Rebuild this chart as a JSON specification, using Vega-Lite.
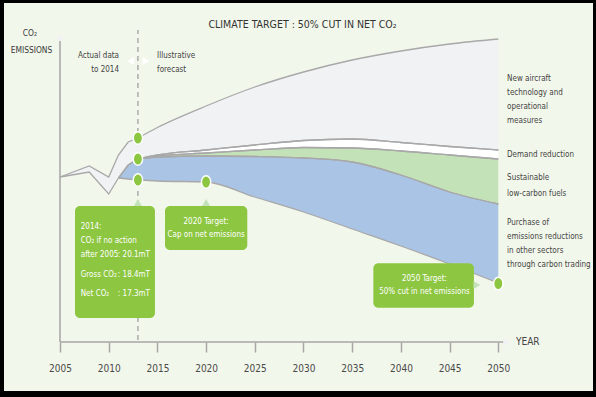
{
  "$schema": "https://vega.github.io/schema/vega-lite/v6.json",
  "width": 589,
  "height": 388,
  "autosize": {"type": "none"},
  "padding": {"left": 4, "top": 3, "right": 3, "bottom": 6},
  "background": "#000000",
  "config": {
    "view": {"fill": "#f2f7eb", "stroke": null},
    "font": "DejaVu Sans Condensed, sans-serif"
  },
  "datasets": {
    "bands": [
      {"phase": "a", "band": "tech", "year": 2005, "v": 16.5, "v2": 16.5},
      {"phase": "a", "band": "tech", "year": 2008, "v": 17.6, "v2": 17.0},
      {"phase": "a", "band": "tech", "year": 2010, "v": 16.5, "v2": 14.8},
      {"phase": "a", "band": "tech", "year": 2011, "v": 18.7, "v2": 16.4},
      {"phase": "a", "band": "tech", "year": 2012, "v": 20.0, "v2": 17.7},
      {"phase": "a", "band": "tech", "year": 2013, "v": 20.4, "v2": 18.3},
      {"phase": "a", "band": "trading", "year": 2011, "v": 16.4, "v2": 16.4},
      {"phase": "a", "band": "trading", "year": 2012, "v": 17.7, "v2": 16.3},
      {"phase": "a", "band": "trading", "year": 2013, "v": 18.3, "v2": 16.2},

      {"phase": "f", "band": "tech", "year": 2013, "v": 20.4, "v2": 18.3},
      {"phase": "f", "band": "tech", "year": 2015, "v": 21.45, "v2": 18.7},
      {"phase": "f", "band": "tech", "year": 2020, "v": 23.6, "v2": 19.2},
      {"phase": "f", "band": "tech", "year": 2025, "v": 25.5, "v2": 19.7},
      {"phase": "f", "band": "tech", "year": 2030, "v": 27.0, "v2": 20.15},
      {"phase": "f", "band": "tech", "year": 2035, "v": 28.2, "v2": 20.3},
      {"phase": "f", "band": "tech", "year": 2040, "v": 29.1, "v2": 19.95},
      {"phase": "f", "band": "tech", "year": 2045, "v": 29.8, "v2": 19.55},
      {"phase": "f", "band": "tech", "year": 2050, "v": 30.3, "v2": 19.2},

      {"phase": "f", "band": "demand", "year": 2013, "v": 18.3, "v2": 18.3},
      {"phase": "f", "band": "demand", "year": 2015, "v": 18.7, "v2": 18.6},
      {"phase": "f", "band": "demand", "year": 2020, "v": 19.2, "v2": 18.9},
      {"phase": "f", "band": "demand", "year": 2025, "v": 19.7, "v2": 19.2},
      {"phase": "f", "band": "demand", "year": 2030, "v": 20.15, "v2": 19.45},
      {"phase": "f", "band": "demand", "year": 2035, "v": 20.3, "v2": 19.4},
      {"phase": "f", "band": "demand", "year": 2040, "v": 19.95, "v2": 19.1},
      {"phase": "f", "band": "demand", "year": 2045, "v": 19.55, "v2": 18.7},
      {"phase": "f", "band": "demand", "year": 2050, "v": 19.2, "v2": 18.3},

      {"phase": "f", "band": "fuels", "year": 2013, "v": 18.3, "v2": 18.3},
      {"phase": "f", "band": "fuels", "year": 2015, "v": 18.6, "v2": 18.5},
      {"phase": "f", "band": "fuels", "year": 2020, "v": 18.9, "v2": 18.6},
      {"phase": "f", "band": "fuels", "year": 2025, "v": 19.2, "v2": 18.55},
      {"phase": "f", "band": "fuels", "year": 2030, "v": 19.45, "v2": 18.4},
      {"phase": "f", "band": "fuels", "year": 2035, "v": 19.4, "v2": 18.0},
      {"phase": "f", "band": "fuels", "year": 2040, "v": 19.1, "v2": 16.7},
      {"phase": "f", "band": "fuels", "year": 2045, "v": 18.7, "v2": 15.0},
      {"phase": "f", "band": "fuels", "year": 2050, "v": 18.3, "v2": 13.8},

      {"phase": "f", "band": "trading", "year": 2013, "v": 18.3, "v2": 16.2},
      {"phase": "f", "band": "trading", "year": 2015, "v": 18.5, "v2": 16.1},
      {"phase": "f", "band": "trading", "year": 2020, "v": 18.6, "v2": 16.0},
      {"phase": "f", "band": "trading", "year": 2025, "v": 18.55, "v2": 14.5},
      {"phase": "f", "band": "trading", "year": 2030, "v": 18.4, "v2": 13.0},
      {"phase": "f", "band": "trading", "year": 2035, "v": 18.0, "v2": 11.3},
      {"phase": "f", "band": "trading", "year": 2040, "v": 16.7, "v2": 9.6},
      {"phase": "f", "band": "trading", "year": 2045, "v": 15.0, "v2": 7.8},
      {"phase": "f", "band": "trading", "year": 2050, "v": 13.8, "v2": 5.9}
    ],
    "dots": [
      {"year": 2013, "v": 20.4},
      {"year": 2013, "v": 18.3},
      {"year": 2013, "v": 16.2},
      {"year": 2020, "v": 16.0},
      {"year": 2050, "v": 5.85}
    ],
    "axes": [
      {"year": 2005, "year2": 2050.6, "v": 0, "v2": 0},
      {"year": 2005, "year2": 2005, "v": 0, "v2": 30.1}
    ],
    "arrows": [
      {"kind": "axis", "dir": "right", "year": 2050.86, "v": 0},
      {"kind": "axis", "dir": "up", "year": 2005, "v": 30.5},
      {"kind": "note", "dir": "left", "year": 2012.26, "v": 28.1},
      {"kind": "note", "dir": "right", "year": 2013.83, "v": 28.1},
      {"kind": "callout", "dir": "up", "year": 2013, "v": 13.95},
      {"kind": "callout", "dir": "up", "year": 2020, "v": 13.95},
      {"kind": "callout", "dir": "right", "year": 2047.81, "v": 5.7}
    ],
    "boxes": [
      {"year": 2006.54, "year2": 2014.75, "v": 13.6, "v2": 2.4},
      {"year": 2015.78, "year2": 2024.23, "v": 13.6, "v2": 9.2},
      {"year": 2037.17, "year2": 2047.5, "v": 7.87, "v2": 3.43}
    ],
    "labels": [
      {"role": "title", "year": 2029.9, "v": 31.7, "text": "CLIMATE TARGET : 50% CUT IN NET CO₂"},
      {"role": "ylab", "year": 2001.9, "v": 30.9, "text": "CO₂"},
      {"role": "ylab", "year": 2002.07, "v": 29.2, "text": "EMISSIONS"},
      {"role": "noteL", "year": 2011.06, "v": 28.6, "text": "Actual data"},
      {"role": "noteL", "year": 2011.06, "v": 27.2, "text": "to 2014"},
      {"role": "noteR", "year": 2014.97, "v": 28.6, "text": "Illustrative"},
      {"role": "noteR", "year": 2014.97, "v": 27.2, "text": "forecast"},
      {"role": "series", "year": 2050.9, "v": 26.3, "text": "New aircraft"},
      {"role": "series", "year": 2050.9, "v": 24.9, "text": "technology and"},
      {"role": "series", "year": 2050.9, "v": 23.5, "text": "operational"},
      {"role": "series", "year": 2050.9, "v": 22.1, "text": "measures"},
      {"role": "series", "year": 2050.9, "v": 18.7, "text": "Demand reduction"},
      {"role": "series", "year": 2050.9, "v": 16.43, "text": "Sustainable"},
      {"role": "series", "year": 2050.9, "v": 14.85, "text": "low-carbon fuels"},
      {"role": "series", "year": 2050.9, "v": 11.93, "text": "Purchase of"},
      {"role": "series", "year": 2050.9, "v": 10.53, "text": "emissions reductions"},
      {"role": "series", "year": 2050.9, "v": 9.1, "text": "in other sectors"},
      {"role": "series", "year": 2050.9, "v": 7.7, "text": "through carbon trading"},
      {"role": "axisTitle", "year": 2051.82, "v": 0.03, "text": "YEAR"},
      {"role": "boxL", "year": 2007.13, "v": 11.53, "text": "2014:"},
      {"role": "boxL", "year": 2007.13, "v": 10.1, "text": "CO₂ if no action"},
      {"role": "boxL", "year": 2007.13, "v": 8.67, "text": "after 2005"},
      {"role": "boxL", "year": 2007.13, "v": 6.7, "text": "Gross CO₂"},
      {"role": "boxL", "year": 2007.13, "v": 4.77, "text": "Net CO₂"},
      {"role": "boxR", "year": 2014.24, "v": 8.67, "text": ": 20.1mT"},
      {"role": "boxR", "year": 2014.24, "v": 6.7, "text": ": 18.4mT"},
      {"role": "boxR", "year": 2014.24, "v": 4.77, "text": ": 17.3mT"},
      {"role": "boxC", "year": 2020, "v": 12.03, "text": "2020 Target:"},
      {"role": "boxC", "year": 2020, "v": 10.7, "text": "Cap on net emissions"},
      {"role": "boxC", "year": 2042.42, "v": 6.3, "text": "2050 Target:"},
      {"role": "boxC", "year": 2042.42, "v": 5.03, "text": "50% cut in net emissions"}
    ]
  },
  "encoding": {
    "x": {
      "field": "year",
      "type": "quantitative",
      "scale": {"domain": [1999.251, 2059.723], "nice": false, "zero": false},
      "axis": {
        "orient": "bottom",
        "offset": -49,
        "values": [2005, 2010, 2015, 2020, 2025, 2030, 2035, 2040, 2045, 2050],
        "domain": false,
        "grid": false,
        "ticks": true,
        "tickSize": 10,
        "tickColor": "#a6a6a6",
        "tickWidth": 1.5,
        "labelFontSize": 10,
        "labelColor": "#4a4a4a",
        "labelPadding": 11,
        "labelFlush": false,
        "labelOverlap": false,
        "format": "d",
        "title": null
      }
    },
    "y": {
      "field": "v",
      "type": "quantitative",
      "scale": {"domain": [-4.9, 33.9], "nice": false, "zero": false},
      "axis": null
    }
  },
  "layer": [
    {
      "data": {"values": [{"year": 2013, "v": 0.2, "v2": 31.2}]},
      "mark": {"type": "rule", "color": "#a0a0a0", "strokeWidth": 1.3, "strokeDash": [5, 4]},
      "encoding": {"y2": {"field": "v2"}}
    },
    {
      "data": {"name": "axes"},
      "mark": {"type": "rule", "color": "#a6a6a6", "strokeWidth": 1.5},
      "encoding": {"x2": {"field": "year2"}, "y2": {"field": "v2"}}
    },
    {
      "data": {"name": "bands"},
      "transform": [{"filter": "datum.phase === 'a'"}],
      "mark": {"type": "area", "interpolate": "linear", "opacity": 1},
      "encoding": {
        "y2": {"field": "v2"},
        "color": {"field": "band", "type": "nominal", "scale": {"domain": ["tech", "demand", "fuels", "trading"], "range": ["#f1f2f4", "#ffffff", "#c4e2b8", "#aac4e6"]}, "legend": null}
      }
    },
    {
      "data": {"name": "bands"},
      "transform": [{"filter": "datum.phase === 'f'"}],
      "mark": {"type": "area", "interpolate": "monotone", "opacity": 1},
      "encoding": {
        "y2": {"field": "v2"},
        "color": {"field": "band", "type": "nominal", "scale": {"domain": ["tech", "demand", "fuels", "trading"], "range": ["#f1f2f4", "#ffffff", "#c4e2b8", "#aac4e6"]}, "legend": null}
      }
    },
    {
      "data": {"name": "bands"},
      "transform": [{"filter": "datum.phase === 'a'"}],
      "mark": {"type": "line", "interpolate": "linear", "color": "#a8a8a8", "strokeWidth": 1.3},
      "encoding": {"detail": {"field": "band"}}
    },
    {
      "data": {"name": "bands"},
      "transform": [{"filter": "datum.phase === 'a'"}],
      "mark": {"type": "line", "interpolate": "linear", "color": "#a8a8a8", "strokeWidth": 1.3},
      "encoding": {
        "detail": {"field": "band"},
        "y": {"field": "v2", "type": "quantitative", "scale": {"domain": [-4.9, 33.9], "nice": false, "zero": false}, "axis": null}
      }
    },
    {
      "data": {"name": "bands"},
      "transform": [{"filter": "datum.phase === 'f'"}],
      "mark": {"type": "line", "interpolate": "monotone", "color": "#a8a8a8", "strokeWidth": 1.3},
      "encoding": {"detail": {"field": "band"}}
    },
    {
      "data": {"name": "bands"},
      "transform": [{"filter": "datum.phase === 'f'"}],
      "mark": {"type": "line", "interpolate": "monotone", "color": "#a8a8a8", "strokeWidth": 1.3},
      "encoding": {
        "detail": {"field": "band"},
        "y": {"field": "v2", "type": "quantitative", "scale": {"domain": [-4.9, 33.9], "nice": false, "zero": false}, "axis": null}
      }
    },
    {
      "data": {"name": "dots"},
      "mark": {"type": "point", "shape": "M-0.75,0A0.75,1,0,1,0,0.75,0A0.75,1,0,1,0,-0.75,0Z", "size": 156, "filled": true, "fill": "#8dc641", "stroke": "#ffffff", "strokeWidth": 1.5, "opacity": 1}
    },
    {
      "data": {"name": "boxes"},
      "mark": {"type": "rect", "color": "#8dc641", "cornerRadius": 5},
      "encoding": {"x2": {"field": "year2"}, "y2": {"field": "v2"}}
    },
    {
      "data": {"name": "arrows"},
      "transform": [{"filter": "datum.dir === 'up'"}],
      "mark": {"type": "point", "shape": "triangle-up", "size": 64, "filled": true, "opacity": 1},
      "encoding": {"color": {"field": "kind", "type": "nominal", "scale": {"domain": ["axis", "note", "callout"], "range": ["#a6a6a6", "#9c9c9c", "#8dc641"]}, "legend": null}}
    },
    {
      "data": {"name": "arrows"},
      "transform": [{"filter": "datum.dir === 'right'"}],
      "mark": {"type": "point", "shape": "triangle-right", "size": 64, "filled": true, "opacity": 1},
      "encoding": {"color": {"field": "kind", "type": "nominal", "scale": {"domain": ["axis", "note", "callout"], "range": ["#a6a6a6", "#9c9c9c", "#8dc641"]}, "legend": null}}
    },
    {
      "data": {"name": "arrows"},
      "transform": [{"filter": "datum.dir === 'left'"}],
      "mark": {"type": "point", "shape": "triangle-left", "size": 64, "filled": true, "opacity": 1},
      "encoding": {"color": {"field": "kind", "type": "nominal", "scale": {"domain": ["axis", "note", "callout"], "range": ["#a6a6a6", "#9c9c9c", "#8dc641"]}, "legend": null}}
    },
    {
      "data": {"name": "labels"},
      "transform": [{"filter": "datum.role === 'title'"}],
      "mark": {"type": "text", "align": "center", "baseline": "middle", "fontSize": 10.5, "color": "#333333"},
      "encoding": {"text": {"field": "text", "type": "nominal"}}
    },
    {
      "data": {"name": "labels"},
      "transform": [{"filter": "datum.role === 'ylab'"}],
      "mark": {"type": "text", "align": "center", "baseline": "middle", "fontSize": 8.4, "color": "#3a3a3a"},
      "encoding": {"text": {"field": "text", "type": "nominal"}}
    },
    {
      "data": {"name": "labels"},
      "transform": [{"filter": "datum.role === 'noteL'"}],
      "mark": {"type": "text", "align": "right", "baseline": "middle", "fontSize": 8, "color": "#444444"},
      "encoding": {"text": {"field": "text", "type": "nominal"}}
    },
    {
      "data": {"name": "labels"},
      "transform": [{"filter": "datum.role === 'noteR' || datum.role === 'series'"}],
      "mark": {"type": "text", "align": "left", "baseline": "middle", "fontSize": 8, "color": "#444444"},
      "encoding": {"text": {"field": "text", "type": "nominal"}}
    },
    {
      "data": {"name": "labels"},
      "transform": [{"filter": "datum.role === 'axisTitle'"}],
      "mark": {"type": "text", "align": "left", "baseline": "middle", "fontSize": 10, "color": "#444444"},
      "encoding": {"text": {"field": "text", "type": "nominal"}}
    },
    {
      "data": {"name": "labels"},
      "transform": [{"filter": "datum.role === 'boxL'"}],
      "mark": {"type": "text", "align": "left", "baseline": "middle", "fontSize": 8, "color": "#ffffff"},
      "encoding": {"text": {"field": "text", "type": "nominal"}}
    },
    {
      "data": {"name": "labels"},
      "transform": [{"filter": "datum.role === 'boxR'"}],
      "mark": {"type": "text", "align": "right", "baseline": "middle", "fontSize": 8, "color": "#ffffff"},
      "encoding": {"text": {"field": "text", "type": "nominal"}}
    },
    {
      "data": {"name": "labels"},
      "transform": [{"filter": "datum.role === 'boxC'"}],
      "mark": {"type": "text", "align": "center", "baseline": "middle", "fontSize": 8, "color": "#ffffff"},
      "encoding": {"text": {"field": "text", "type": "nominal"}}
    }
  ]
}
